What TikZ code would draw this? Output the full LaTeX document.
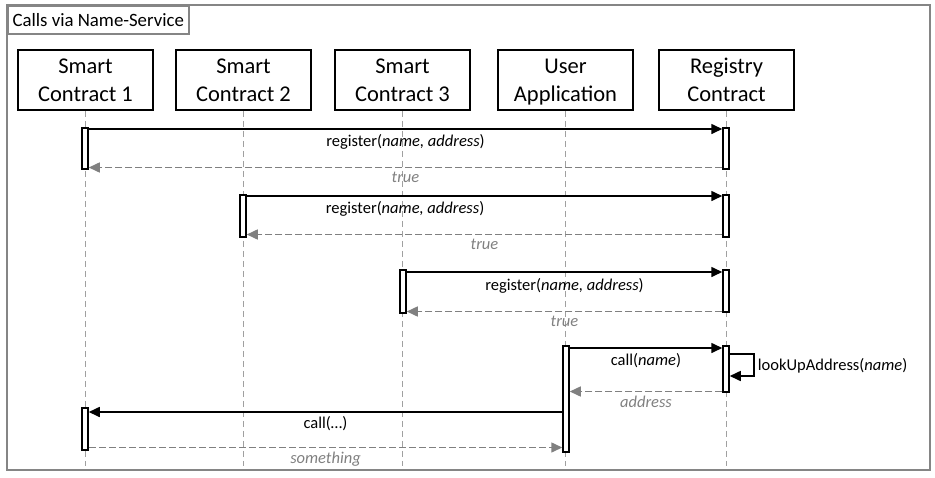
\documentclass[tikz,border=0pt]{standalone}
\usepackage{fontspec}
\setmainfont{Carlito}
\usetikzlibrary{arrows.meta,calc}
\definecolor{framegray}{HTML}{858585}
\definecolor{retgray}{HTML}{808080}
\definecolor{lifegray}{HTML}{A0A0A0}
\tikzset{
  part/.style={draw=black,line width=1.6pt,minimum width=135pt,minimum height=60pt,
    align=center,font=\fontsize{22.5}{28}\selectfont,inner sep=0pt,text depth=0pt},
  life/.style={draw=lifegray,line width=1.4pt,dash pattern=on 6pt off 4pt},
  actbar/.style={draw=black,fill=white,line width=1.5pt,minimum width=6pt,inner sep=0pt,anchor=north},
  callarr/.style={draw=black,line width=1.6pt,-{Triangle[length=11pt,width=10pt]}},
  retarr/.style={draw=retgray,line width=1.5pt,dash pattern=on 7pt off 3pt,-{Triangle[length=11pt,width=10pt]}},
  lbl/.style={font=\fontsize{16.5}{19}\selectfont,inner sep=1pt,text=black},
  rlbl/.style={font=\fontsize{16.5}{19}\selectfont\itshape,inner sep=1pt,text=retgray},
}
\begin{document}
\begin{tikzpicture}[x=1pt,y=-1pt]
\useasboundingbox (0,0) rectangle (935,477);
% frame
\draw[framegray,line width=1.5pt] (7,5) rectangle (930,470);
\node[draw=framegray,line width=1.5pt,anchor=north west,minimum width=181pt,minimum height=28pt,
  inner sep=0pt,font=\fontsize{18.8}{21}\selectfont] (title) at (7,5) {Calls via Name-Service};
% participants
\node[part] (p1) at (85.5,80) {Smart\\Contract 1};
\node[part] (p2) at (243.5,80) {Smart\\Contract 2};
\node[part] (p3) at (402.5,80) {Smart\\Contract 3};
\node[part] (p4) at (565.5,80) {User\\Application};
\node[part] (p5) at (726.5,80) {Registry\\Contract};
% lifelines
\foreach \p in {p1,p2,p3,p4,p5}{
  \coordinate (\p-end) at ($(\p.south)+(0,355)$);
  \draw[life] (\p.south) -- (\p-end);
}
% activation bars
\node[actbar,minimum height=41pt] (a1) at (85,127) {};
\node[actbar,minimum height=41pt] (r1) at (726,127) {};
\node[actbar,minimum height=42pt] (a2) at (243,194) {};
\node[actbar,minimum height=42pt] (r2) at (726,194) {};
\node[actbar,minimum height=43pt] (a3) at (403,269) {};
\node[actbar,minimum height=42pt] (r3) at (726,269) {};
\node[actbar,minimum height=106pt] (a4) at (566,345) {};
\node[actbar,minimum height=46pt] (r4) at (726,345) {};
\node[actbar,minimum height=42pt] (a5) at (85,407) {};
% message 1
\draw[callarr] ($(a1.north east)+(0,2)$) coordinate (m1) -- (m1 -| r1.west)
  node[lbl,midway,anchor=north,yshift=-4pt] {register(\textit{name, address})};
\draw[retarr] ($(r1.south west)+(0,-2)$) coordinate (m1r) -- (m1r -| a1.east)
  node[rlbl,midway,anchor=north,yshift=-3pt] {true};
% message 2
\draw[callarr] ($(a2.north east)+(0,2)$) coordinate (m2) -- (m2 -| r2.west)
  node[lbl,pos=0.333,anchor=north,yshift=-4pt] {register(\textit{name, address})};
\draw[retarr] ($(r2.south west)+(0,-3)$) coordinate (m2r) -- (m2r -| a2.east)
  node[rlbl,midway,anchor=north,yshift=-3pt] {true};
% message 3
\draw[callarr] ($(a3.north east)+(0,3)$) coordinate (m3) -- (m3 -| r3.west)
  node[lbl,midway,anchor=north,yshift=-5pt] {register(\textit{name, address})};
\draw[retarr] ($(r3.south west)+(0,-1)$) coordinate (m3r) -- (m3r -| a3.east)
  node[rlbl,midway,anchor=north,yshift=-3pt] {true};
% message 4
\draw[callarr] ($(a4.north east)+(0,3)$) coordinate (m4) -- (m4 -| r4.west)
  node[lbl,midway,anchor=north,yshift=-4pt] {call(\textit{name})};
\coordinate (s1) at ($(r4.north east)+(0,9)$);
\coordinate (s2) at ($(r4.north east)+(0,31)$);
\draw[callarr] (s1) -- ++(24,0) coordinate (s3) |- (s2);
\node[lbl,anchor=west] (lk) at ($(s3)+(3,12)$) {lookUpAddress(\textit{name})};
\draw[retarr] ($(r4.south west)+(0,-1)$) coordinate (m4r) -- (m4r -| a4.east)
  node[rlbl,midway,anchor=north,yshift=-3pt] {address};
% message 5
\draw[callarr] ($(a5.north)+(0,5)$) coordinate (m5) (m5 -| a4.west) -- (m5 -| a5.east)
  node[lbl,midway,anchor=north,yshift=-3pt] {call(…)};
\draw[retarr] ($(a5.south east)+(0,-3)$) coordinate (m5r) -- (m5r -| a4.west)
  node[rlbl,midway,anchor=north,yshift=-3pt] {something};
\end{tikzpicture}
\end{document}
